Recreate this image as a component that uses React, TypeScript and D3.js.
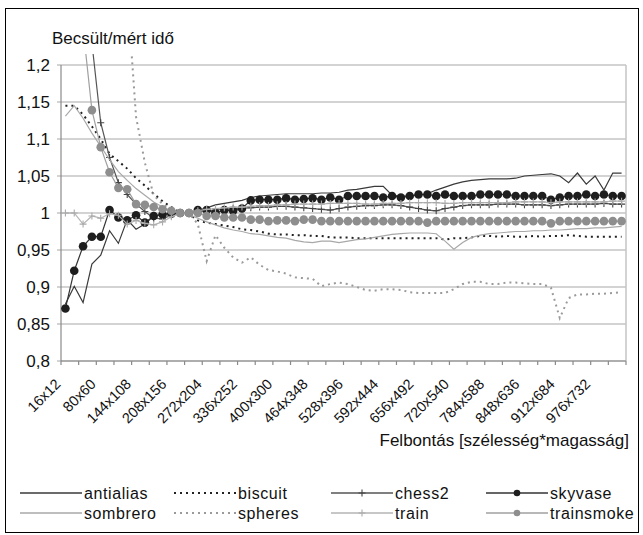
import * as d3 from "d3";

const categories = [
  "16x12", "32x24", "48x36", "64x48", "80x60", "96x72", "112x84", "128x96",
  "144x108", "160x120", "176x132", "192x144", "208x156", "224x168", "240x180", "256x192",
  "272x204", "288x216", "304x228", "320x240", "336x252", "352x264", "368x276", "384x288",
  "400x300", "416x312", "432x324", "448x336", "464x348", "480x360", "496x372", "512x384",
  "528x396", "544x408", "560x420", "576x432", "592x444", "608x456", "624x468", "640x480",
  "656x492", "672x504", "688x516", "704x528", "720x540", "736x552", "752x564", "768x576",
  "784x588", "800x600", "816x612", "832x624", "848x636", "864x648", "880x660", "896x672",
  "912x684", "928x696", "944x708", "960x720", "976x732", "992x744", "1008x756", "1024x768",
];

const tickLabels = [
  "16x12", "80x60", "144x108", "208x156", "272x204", "336x252", "400x300", "464x348",
  "528x396", "592x444", "656x492", "720x540", "784x588", "848x636", "912x684", "976x732",
];

const yTicks = [0.8, 0.85, 0.9, 0.95, 1, 1.05, 1.1, 1.15, 1.2];

const antialias = [
  0.877, 0.901, 0.879, 0.931, 0.943, 0.976, 0.959, 0.991, 0.978, 0.985, 0.996, 0.998, 1.0, 1.0, 1.0, 1.003,
  1.007, 1.011, 1.013, 1.015, 1.017, 1.021, 1.023, 1.024, 1.025, 1.026, 1.026, 1.026, 1.026, 1.027, 1.027, 1.028,
  1.031, 1.032, 1.034, 1.036, 1.036, 1.024, 1.023, 1.023, 1.024, 1.026, 1.031, 1.035, 1.039, 1.042, 1.044, 1.045,
  1.046, 1.046, 1.046, 1.047, 1.05, 1.051, 1.052, 1.053, 1.05, 1.041, 1.054, 1.039, 1.05, 1.031, 1.054, 1.054,
];
const biscuit = [
  1.145, 1.145, 1.133, 1.117, 1.1, 1.08, 1.07, 1.06, 1.047, 1.037, 1.026, 1.016, 1.008, 1.0, 0.998, 0.99,
  0.987, 0.985, 0.983, 0.981, 0.978, 0.977, 0.975, 0.972, 0.971, 0.971, 0.97, 0.97, 0.969, 0.969, 0.967, 0.967,
  0.967, 0.966, 0.966, 0.966, 0.966, 0.966, 0.966, 0.966, 0.966, 0.966, 0.966, 0.964, 0.966, 0.966, 0.967, 0.969,
  0.969, 0.968, 0.969, 0.968, 0.968, 0.969, 0.968, 0.969, 0.969, 0.97, 0.969, 0.968, 0.968, 0.968, 0.968, 0.968,
];
const chess2 = [
  1.6, 1.45, 1.33, 1.23, 1.122, 1.075, 1.041, 1.025, 1.012, 1.002, 0.993, 0.992, 0.997, 1.0, 1.0, 1.002,
  1.003, 1.004, 1.005, 1.006, 1.007, 1.007, 1.008, 1.008, 1.009, 1.009, 1.008, 1.007, 1.006, 1.005, 1.004, 1.006,
  1.008, 1.009, 1.01, 1.01, 1.011, 1.011, 1.01, 1.008, 1.006, 1.004, 1.003, 1.006, 1.008, 1.01, 1.011, 1.011,
  1.011, 1.012, 1.012, 1.012, 1.011, 1.011, 1.011, 1.01, 1.011, 1.012, 1.012, 1.012, 1.012, 1.013, 1.012, 1.012,
];
const skyvase = [
  0.871, 0.922, 0.955, 0.968, 0.968, 1.004, 0.994, 0.99, 0.997, 0.987, 0.996, 0.998, 0.999, 1.0, 1.0, 1.004,
  1.004, 1.0, 1.004, 1.003, 1.006, 1.017, 1.018, 1.018, 1.018, 1.02, 1.018, 1.019, 1.02, 1.018, 1.021, 1.018,
  1.023, 1.023, 1.023, 1.023, 1.021, 1.023, 1.021, 1.023, 1.025, 1.025, 1.023, 1.025, 1.023, 1.023, 1.023, 1.025,
  1.025, 1.025, 1.025, 1.023, 1.023, 1.023, 1.023, 1.018, 1.021, 1.023, 1.023, 1.025, 1.023, 1.025, 1.023, 1.023,
];
const sombrero = [
  1.131, 1.145, 1.128, 1.108, 1.09, 1.072, 1.056, 1.044, 1.033, 1.024, 1.015, 1.008, 1.003, 1.0, 0.998, 0.993,
  0.988, 0.984, 0.98, 0.977, 0.975, 0.972, 0.971, 0.969, 0.967, 0.966, 0.963, 0.961, 0.96, 0.962, 0.962, 0.96,
  0.962, 0.964, 0.965, 0.967, 0.969, 0.971, 0.972, 0.973, 0.973, 0.973, 0.972, 0.962, 0.951, 0.96, 0.967, 0.97,
  0.972, 0.973, 0.974, 0.975, 0.975, 0.976, 0.976, 0.977, 0.977, 0.978, 0.979, 0.979, 0.98, 0.98, 0.981, 0.982,
];
const spheres = [
  2.4, 2.2, 2.0, 1.85, 1.7, 1.55, 1.42, 1.3, 1.13, 1.068, 1.024, 1.012, 1.005, 1.0, 1.0, 0.985,
  0.935, 0.97, 0.953, 0.94, 0.933, 0.94, 0.93, 0.923, 0.921, 0.918, 0.913, 0.912, 0.911, 0.901, 0.904, 0.906,
  0.904, 0.9, 0.896, 0.895, 0.897, 0.897, 0.896, 0.893, 0.892, 0.892, 0.892, 0.892, 0.897, 0.904, 0.907, 0.907,
  0.904, 0.904, 0.906, 0.906, 0.905, 0.904, 0.904, 0.899, 0.858, 0.885, 0.89, 0.89, 0.891, 0.891, 0.892, 0.893,
];
const train = [
  1.0, 1.0, 0.985, 0.996, 0.993, 0.999, 0.997, 0.985, 0.99, 0.986, 0.984, 0.988, 0.995, 1.0, 1.0, 1.003,
  1.005, 1.006, 1.007, 1.008, 1.008, 1.009, 1.01, 1.01, 1.011, 1.011, 1.012, 1.012, 1.012, 1.012, 1.013, 1.013,
  1.013, 1.013, 1.012, 1.012, 1.013, 1.013, 1.013, 1.014, 1.014, 1.014, 1.014, 1.013, 1.013, 1.014, 1.014, 1.014,
  1.014, 1.014, 1.014, 1.015, 1.015, 1.015, 1.015, 1.014, 1.015, 1.015, 1.015, 1.015, 1.015, 1.015, 1.016, 1.016,
];
const trainsmoke = [
  1.75, 1.45, 1.25, 1.139, 1.089, 1.055, 1.034, 1.032, 1.012, 1.011, 1.008, 1.005, 1.003, 1.0, 1.0, 1.0,
  0.996, 0.996, 0.994, 0.994, 0.994, 0.991, 0.991, 0.989, 0.99, 0.99, 0.989, 0.991, 0.991, 0.989, 0.989, 0.989,
  0.989, 0.989, 0.989, 0.989, 0.989, 0.989, 0.989, 0.989, 0.989, 0.987, 0.989, 0.989, 0.989, 0.989, 0.989, 0.989,
  0.989, 0.989, 0.989, 0.989, 0.989, 0.989, 0.989, 0.986, 0.989, 0.989, 0.989, 0.989, 0.989, 0.989, 0.989, 0.989,
];

type Series = {
  name: string;
  values: number[];
  color: string;
  width: number;
  dash?: string;
  marker?: "dot" | "plus";
  markerColor?: string;
};

const series: Series[] = [
  { name: "antialias", values: antialias, color: "#3a3a3a", width: 1.2 },
  { name: "biscuit", values: biscuit, color: "#222", width: 2, dash: "2,4" },
  { name: "chess2", values: chess2, color: "#555", width: 1.2, marker: "plus", markerColor: "#444" },
  { name: "skyvase", values: skyvase, color: "#333", width: 1.2, marker: "dot", markerColor: "#1e1e1e" },
  { name: "sombrero", values: sombrero, color: "#a8a8a8", width: 1.2 },
  { name: "spheres", values: spheres, color: "#9a9a9a", width: 2, dash: "2,4" },
  { name: "train", values: train, color: "#b4b4b4", width: 1.2, marker: "plus", markerColor: "#aaa" },
  { name: "trainsmoke", values: trainsmoke, color: "#a0a0a0", width: 1.2, marker: "dot", markerColor: "#8e8e8e" },
];

const W = 643;
const H = 535;
const left = 61;
const right = 626;
const top = 65;
const bottom = 361;
const font = "Liberation Sans, Arial, sans-serif";

const fmt = d3.formatLocale({ decimal: ",", thousands: " ", grouping: [3], currency: ["", ""] }).format(".2~f");

function Marker({ s, x, y, r }: { s: Series; x: number; y: number; r: number }) {
  if (s.marker === "dot") return <circle cx={x} cy={y} r={r} fill={s.markerColor} />;
  if (s.marker === "plus")
    return (
      <path
        d={`M${x - 3.5},${y}H${x + 3.5}M${x},${y - 3.5}V${y + 3.5}`}
        stroke={s.markerColor}
        strokeWidth={1.1}
      />
    );
  return null;
}

export default function App() {
  const x = d3.scalePoint<string>().domain(categories).range([left, right]).padding(0.5);
  const y = d3.scaleLinear().domain([0.8, 1.2]).range([bottom, top]);
  const step = x.step();

  const line = d3
    .line<number>()
    .x((_, i) => x(categories[i]) as number)
    .y((d) => y(d));

  const legendCols = [20, 174, 331, 486];
  const legendRows = [493, 513];

  return (
    <svg
      width={W}
      height={H}
      style={{ position: "absolute", left: 0, top: 0, background: "#fff" }}
      fontFamily={font}
    >
      <defs>
        <clipPath id="plotClip">
          <rect x={left - 6} y={54} width={right - left + 12} height={bottom - 54 + 6} />
        </clipPath>
      </defs>
      <rect x={5.5} y={8.5} width={633} height={524} fill="#fff" stroke="#000" strokeWidth={1} />

      <text x={52} y={44} fontSize={17} fill="#111">
        Becsült/mért idő
      </text>

      {/* gridlines */}
      {yTicks.map((t) => (
        <g key={t}>
          <line x1={left - 4} x2={right} y1={y(t)} y2={y(t)} stroke="#c4c4c4" strokeWidth={1.5} />
          <text x={50} y={y(t)} dy="0.36em" textAnchor="end" fontSize={17} fill="#111">
            {fmt(t)}
          </text>
        </g>
      ))}
      <line x1={right} x2={right} y1={top} y2={bottom} stroke="#c4c4c4" strokeWidth={1.5} />
      <line x1={left} x2={left} y1={top} y2={bottom} stroke="#8a8a8a" strokeWidth={1.2} />
      <line x1={left} x2={right} y1={bottom} y2={bottom} stroke="#8a8a8a" strokeWidth={1.2} />
      {d3.range(0, categories.length + 1, 2).map((k) => (
        <line
          key={k}
          x1={left + k * step}
          x2={left + k * step}
          y1={bottom}
          y2={bottom + 4}
          stroke="#8a8a8a"
          strokeWidth={1.2}
        />
      ))}

      {tickLabels.map((lab) => {
        const cx = (x(lab) as number) - 4;
        return (
          <text
            key={lab}
            x={cx}
            y={385}
            textAnchor="end"
            fontSize={14.5}
            fill="#111"
            transform={`rotate(-45 ${cx} 385)`}
          >
            {lab}
          </text>
        );
      })}

      <text x={629} y={446} textAnchor="end" fontSize={17} fill="#111">
        Felbontás [szélesség*magasság]
      </text>

      <g clipPath="url(#plotClip)">
        {series.map((s) => (
          <g key={s.name}>
            <path
              d={line(s.values) || ""}
              fill="none"
              stroke={s.color}
              strokeWidth={s.width}
              strokeDasharray={s.dash}
            />
            {s.marker &&
              s.values.map((v, i) => (
                <Marker key={i} s={s} x={x(categories[i]) as number} y={y(v)} r={4.3} />
              ))}
          </g>
        ))}
      </g>

      {series.map((s, i) => {
        const lx = legendCols[i % 4];
        const ly = legendRows[Math.floor(i / 4)];
        return (
          <g key={s.name}>
            <line
              x1={lx}
              x2={lx + 62}
              y1={ly}
              y2={ly}
              stroke={s.color}
              strokeWidth={s.dash ? 2 : 1.4}
              strokeDasharray={s.dash}
            />
            {s.marker && <Marker s={s} x={lx + 31} y={ly} r={3.3} />}
            <text x={lx + 64} y={ly} dy="0.36em" fontSize={16} letterSpacing={0.6} fill="#111">
              {s.name}
            </text>
          </g>
        );
      })}
    </svg>
  );
}
